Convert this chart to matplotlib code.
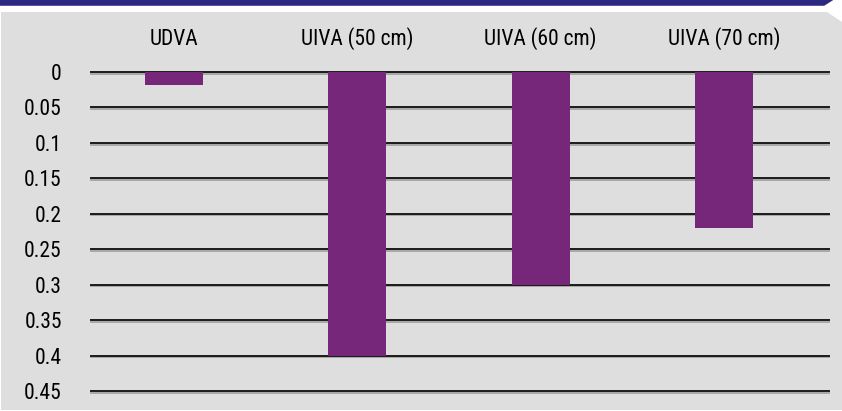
import matplotlib
matplotlib.use("Agg")
import matplotlib.pyplot as plt
import matplotlib.patheffects as pe
from matplotlib.patches import Polygon

categories = ["UDVA", "UIVA (50 cm)", "UIVA (60 cm)", "UIVA (70 cm)"]
values = [0.018, 0.40, 0.30, 0.22]
yticks = [0, 0.05, 0.1, 0.15, 0.2, 0.25, 0.3, 0.35, 0.4, 0.45]
ytick_labels = ["0", "0.05", "0.1", "0.15", "0.2", "0.25", "0.3", "0.35", "0.4", "0.45"]

plt.rcParams['font.family'] = ['Roboto Condensed', 'DejaVu Sans']

W, H = 842, 411
fig = plt.figure(figsize=(W / 100, H / 100), dpi=100)
fig.patch.set_facecolor("white")

# background panel and banner (figure pixel coords)
bg = fig.add_axes([0, 0, 1, 1])
bg.set_xlim(0, W)
bg.set_ylim(H, 0)
bg.axis("off")
bg.add_patch(Polygon([(1, 12), (827, 12), (842, 22), (842, 410), (1, 410)],
                     closed=True, facecolor="#dedede", edgecolor="none"))
bg.add_patch(Polygon([(0, 0), (833, 0), (824, 6), (0, 6)],
                     closed=True, facecolor="#5a55a8", edgecolor="none"))
bg.add_patch(Polygon([(0, 0), (833, 0), (825, 5), (0, 5)],
                     closed=True, facecolor="#2b2a7e", edgecolor="none"))

ax = fig.add_axes([91 / W, 20 / H, (829 - 91) / W, (391 - 72) / H])
ax.set_facecolor("none")
x = list(range(len(categories)))
ax.set_xlim(-0.453, len(categories) - 0.427)
ax.set_ylim(0.45, 0)

for t in yticks:
    ax.axhline(t, color="#1a1a1a", linewidth=1.4, zorder=1, clip_on=False,
               path_effects=[pe.SimpleLineShadow(offset=(0, -1.2), shadow_color="#999999", alpha=0.8),
                             pe.Normal()])

ax.bar(x, values, width=0.316, color="#77277a", zorder=2)

ax.set_yticks(yticks)
ax.set_yticklabels(ytick_labels, fontsize=15.5)
ax.tick_params(axis="y", length=0, pad=21)
ax.xaxis.tick_top()
ax.set_xticks(x)
ax.set_xticklabels(categories, fontsize=15.5)
ax.tick_params(axis="x", length=0, pad=16)
for s in ax.spines.values():
    s.set_visible(False)

fig.savefig("out.png", dpi=100)
